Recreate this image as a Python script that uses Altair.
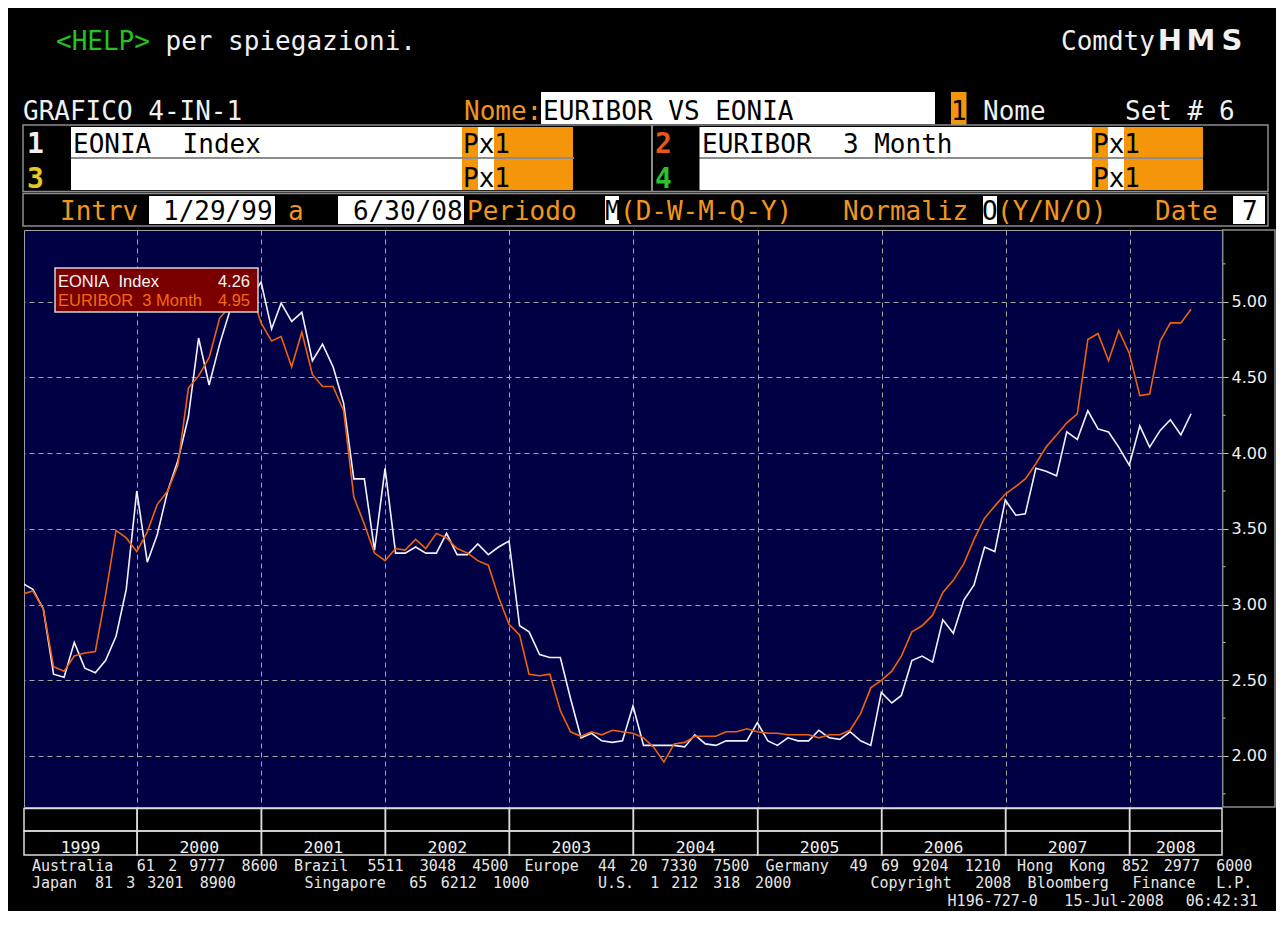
import calendar
import pandas as pd
import altair as alt

# ---------------- data ----------------
SERIES_NAMES = ["EONIA  Index", "EURIBOR  3 Month"]
YEARS = list(range(1999, 2009))

EONIA = [
    3.14, 3.10, 2.97, 2.54, 2.52, 2.75, 2.58, 2.55, 2.63, 2.79, 3.10, 3.75,  # 1999
    3.28, 3.46, 3.75, 3.95, 4.24, 4.76, 4.45, 4.72, 4.94, 4.97, 5.02, 5.13,  # 2000
    4.82, 4.99, 4.87, 4.93, 4.61, 4.72, 4.57, 4.33, 3.83, 3.83, 3.36, 3.90,  # 2001
    3.34, 3.34, 3.38, 3.34, 3.34, 3.47, 3.33, 3.33, 3.40, 3.33, 3.38, 3.42,  # 2002
    2.86, 2.82, 2.67, 2.65, 2.65, 2.38, 2.12, 2.15, 2.10, 2.09, 2.10, 2.33,  # 2003
    2.07, 2.07, 2.07, 2.07, 2.06, 2.14, 2.08, 2.07, 2.10, 2.10, 2.10, 2.22,  # 2004
    2.10, 2.07, 2.12, 2.10, 2.10, 2.17, 2.12, 2.11, 2.16, 2.10, 2.07, 2.42,  # 2005
    2.35, 2.40, 2.63, 2.66, 2.62, 2.90, 2.81, 3.03, 3.13, 3.38, 3.35, 3.69,  # 2006
    3.59, 3.60, 3.90, 3.88, 3.85, 4.14, 4.09, 4.28, 4.16, 4.14, 4.04, 3.92,  # 2007
    4.18, 4.04, 4.15, 4.22, 4.12, 4.26,                                      # 2008
]
EURIBOR = [
    3.07, 3.09, 2.97, 2.59, 2.56, 2.66, 2.68, 2.69, 3.06, 3.49, 3.44, 3.35,  # 1999
    3.48, 3.66, 3.75, 3.92, 4.43, 4.51, 4.63, 4.89, 4.97, 5.05, 5.08, 4.86,  # 2000
    4.74, 4.77, 4.57, 4.80, 4.52, 4.44, 4.44, 4.28, 3.71, 3.53, 3.34, 3.29,  # 2001
    3.37, 3.36, 3.43, 3.37, 3.47, 3.44, 3.37, 3.34, 3.29, 3.26, 3.05, 2.87,  # 2002
    2.80, 2.54, 2.53, 2.54, 2.30, 2.16, 2.13, 2.16, 2.14, 2.17, 2.16, 2.15,  # 2003
    2.12, 2.06, 1.96, 2.08, 2.09, 2.13, 2.13, 2.13, 2.16, 2.16, 2.18, 2.16,  # 2004
    2.15, 2.15, 2.14, 2.14, 2.14, 2.12, 2.14, 2.14, 2.17, 2.28, 2.45, 2.50,  # 2005
    2.56, 2.66, 2.82, 2.86, 2.93, 3.08, 3.16, 3.27, 3.43, 3.57, 3.65, 3.73,  # 2006
    3.78, 3.83, 3.93, 4.04, 4.12, 4.20, 4.26, 4.75, 4.79, 4.61, 4.81, 4.66,  # 2007
    4.38, 4.39, 4.74, 4.86, 4.86, 4.95,                                      # 2008
]
Y_TICKS = [2.0, 2.5, 3.0, 3.5, 4.0, 4.5, 5.0]
Y_MINOR = [1.75, 2.25, 2.75, 3.25, 3.75, 4.25, 4.75, 5.25]

# month-end observation dates, 1/29/99 .. 6/30/08
DATES = []
for y in YEARS:
    for m in range(1, 13):
        if y == 2008 and m > 6:
            break
        d = 29 if (y == 1999 and m == 1) else calendar.monthrange(y, m)[1]
        DATES.append(f"{y}-{m:02d}-{d:02d}T00:00:00")

df = pd.DataFrame({"date": DATES, "EONIA": EONIA, "EURIBOR": EURIBOR})

# ---------------- styling ----------------
BG = "#000000"
PLOT_BG = "#000044"
GRID = "#a4a4a4"
WHITE_LINE = "#f2f2ff"
ORANGE_LINE = "#ee620e"
AMBER = "#f0961e"
BOX_OR = "#f5960a"
GRAY = "#8c8c8c"
WHITE = "#ffffff"
TXT = "#f0f0f0"
BLACK = "#000000"
GREEN = "#22c222"
MONO = "DejaVu Sans Mono"
NB = "\u00a0"

W, H = 1198, 577
OX, OY = 24, 230   # page position of the plot origin


def px(x):
    return round(x - OX, 1)


def py(y):
    return round(y - OY, 1)


X_START = alt.DateTime(year=1999, month=2, date=2)
X_END = alt.DateTime(year=2008, month=9, date=29)
xscale = alt.Scale(domain=[X_START, X_END])
yscale = alt.Scale(domain=[1.6632, 5.4735], nice=False, zero=False)

x_axis = alt.Axis(
    values=[alt.DateTime(year=y, month=1, date=1) for y in YEARS[1:]],
    grid=True, gridColor=GRID, gridDash=[5, 4], gridWidth=1,
    labels=False, ticks=False, domain=False, title=None,
)
y_axis = alt.Axis(
    orient="right", values=Y_TICKS, format=".2f", title=None,
    grid=True, gridColor=GRID, gridDash=[5, 4], gridWidth=1,
    tickSize=6, tickColor="#c8c8c8", domainColor="#a8a8a8", domainWidth=1,
    labelFont="DejaVu Sans", labelFontSize=16, labelColor=TXT,
    labelPadding=3, labelBaseline="middle", labelOverlap=False,
)

# ---------------- main lines ----------------
eonia = alt.Chart(df).mark_line(color=WHITE_LINE, strokeWidth=1.6, clip=True).encode(
    x=alt.X("date:T", scale=xscale, axis=x_axis),
    y=alt.Y("EONIA:Q", scale=yscale, axis=y_axis),
)
euribor = alt.Chart(df).mark_line(color=ORANGE_LINE, strokeWidth=1.6, clip=True).encode(
    x=alt.X("date:T", title=None),
    y=alt.Y("EURIBOR:Q", title=None),
)
minor = alt.Chart(pd.DataFrame({"v": Y_MINOR})).mark_rule(color="#c8c8c8", strokeWidth=1).encode(
    y=alt.Y("v:Q", title=None),
    x=alt.value(W + 0.5),
    x2=alt.value(W + 3.5),
)

# ---------------- year band under the plot ----------------
bounds = ([pd.Timestamp("1999-02-02")] + [pd.Timestamp(f"{y}-01-01") for y in YEARS[1:]]
          + [pd.Timestamp("2008-09-29")])
band = pd.DataFrame({
    "start": [b.strftime("%Y-%m-%dT%H:%M:%S") for b in bounds[:-1]],
    "end": [b.strftime("%Y-%m-%dT%H:%M:%S") for b in bounds[1:]],
    "mid": [(a + (b - a) / 2).strftime("%Y-%m-%dT%H:%M:%S") for a, b in zip(bounds[:-1], bounds[1:])],
    "year": [str(y) for y in YEARS],
})
cells_top = alt.Chart(band).mark_rect(fillOpacity=0, stroke="#dcdcdc", strokeWidth=1.5).encode(
    x=alt.X("start:T", title=None), x2="end:T", y=alt.value(py(808.5)), y2=alt.value(py(831)),
)
cells_bot = alt.Chart(band).mark_rect(fillOpacity=0, stroke="#dcdcdc", strokeWidth=1.5).encode(
    x=alt.X("start:T", title=None), x2="end:T", y=alt.value(py(831)), y2=alt.value(py(855)),
)
year_labels = alt.Chart(band).mark_text(
    align="center", baseline="alphabetic", font=MONO, fontSize=16.5, color=TXT
).encode(x=alt.X("mid:T", title=None), y=alt.value(py(853)), text="year:N")

# ---------------- terminal decoration (page coordinates) ----------------
ONE = alt.Data(values=[{"k": 1}])
DECOR = []


def box(x1, y1, x2, y2, fill, stroke=None, sw=0):
    kw = {"fill": fill}
    if stroke is not None:
        kw.update(stroke=stroke, strokeWidth=sw)
    DECOR.append(alt.Chart(ONE).mark_rect(**kw).encode(
        x=alt.value(px(x1)), x2=alt.value(px(x2)), y=alt.value(py(y1)), y2=alt.value(py(y2))))


def txt(x, y, s, color, size=26, font=MONO, weight="normal", align="left"):
    d = alt.Data(values=[{"t": s.replace(" ", NB)}])
    return alt.Chart(d).mark_text(
        align=align, baseline="alphabetic", font=font, fontSize=size, fontWeight=weight, color=color
    ).encode(x=alt.value(px(x)), y=alt.value(py(y)), text="t:N")


box(541, 92, 935, 124, WHITE)
box(951, 92, 966.5, 125, BOX_OR)
box(23, 125, 1268, 191.5, BG, GRAY, 1.5)
for (ya, yb) in [(127, 157), (159, 190)]:
    for (a, b) in [(71, 462), (699.5, 1092)]:
        box(a, ya, b, yb, WHITE)
        box(b, ya, b + 16, yb, BOX_OR)
        box(b + 16, ya, b + 32, yb, WHITE)
        box(b + 32, ya, b + 111, yb, BOX_OR)
box(71, 157, 574, 159, GRAY)
box(699.5, 157, 1203, 159, GRAY)
box(651, 125, 653, 191.5, GRAY)
box(23, 193.5, 1268, 226, BG, GRAY, 1.5)
for (a, b) in [(149, 275), (338, 464), (605, 619), (983, 997), (1233, 1265)]:
    box(a, 196, b, 224, WHITE)
RECTS = list(DECOR)

HEADER = [
    (56, 50, "<HELP>", GREEN),
    (165.5, 50, "per spiegazioni.", TXT),
    (1061, 50, "Comdty", TXT),
    (23, 120, "GRAFICO 4-IN-1", TXT),
    (464, 120, "Nome:", AMBER),
    (543, 120, "EURIBOR VS EONIA", BLACK),
    (951, 120, "1", BLACK),
    (983, 120, "Nome", TXT),
    (1125, 120, "Set # 6", TXT),
    (73, 153, "EONIA  Index", BLACK),
    (463, 153, "Px1", BLACK),
    (702, 153, "EURIBOR  3 Month", BLACK),
    (1093, 153, "Px1", BLACK),
    (463, 187, "Px1", BLACK),
    (1093, 187, "Px1", BLACK),
    (60, 220, "Intrv", AMBER),
    (163, 220, "1/29/99", BLACK),
    (288, 220, "a", AMBER),
    (353, 220, "6/30/08", BLACK),
    (467, 220, "Periodo", AMBER),
    (605, 220, "M", BLACK),
    (620, 220, "(D-W-M-Q-Y)", AMBER),
    (843, 220, "Normaliz", AMBER),
    (982, 220, "O", BLACK),
    (997, 220, "(Y/N/O)", AMBER),
    (1155, 220, "Date", AMBER),
    (1242, 220, "7", BLACK),
]
ROW_NUMS = [(27, 153, "1", TXT), (655, 153, "2", "#e8561a"), (27, 188, "3", "#e8c820"), (655, 188, "4", "#2ebe2e")]
HMS = [(1170, 50, "H"), (1201, 50, "M"), (1232, 50, "S")]

FOOTER = [
    (871, "Australia 61 2 9777 8600 Brazil 5511 3048 4500 Europe 44 20 7330 7500 Germany 49 69 9204 1210 Hong Kong 852 2977 6000"),
    (888, "Japan 81 3 3201 8900      Singapore 65 6212 1000      U.S. 1 212 318 2000       Copyright 2008 Bloomberg Finance L.P."),
]
FOOTER_RIGHT = (1258, 906, "H196-727-0 15-Jul-2008 06:42:31")
FOOT_X0, FOOT_CW, FOOT_FS = 32, 10.48, 15

TEXTS = []
for (x, y, s, c) in HEADER:
    TEXTS.append(txt(x, y, s, c))
for (x, y, s, c) in ROW_NUMS:
    TEXTS.append(txt(x, y, s, c, size=28, weight="bold"))
for (x, y, s) in HMS:
    TEXTS.append(txt(x, y, s, TXT, size=29, font="DejaVu Sans", weight="bold", align="center"))
for (y, line) in FOOTER:
    i = 0
    for w in line.split(" "):
        if w:
            TEXTS.append(txt(FOOT_X0 + i * FOOT_CW, y, w, "#e6e6e6", size=FOOT_FS))
        i += len(w) + 1
fx, fy, fs = FOOTER_RIGHT
i = len(fs)
for w in reversed(fs.split(" ")):
    TEXTS.append(txt(fx - (len(fs) - i) * FOOT_CW, fy, w, "#e6e6e6", size=FOOT_FS, align="right"))
    i -= len(w) + 1

# axis panel frame at the right of the plot
AXIS_FRAME = alt.Chart(ONE).mark_rect(fillOpacity=0, stroke=GRAY, strokeWidth=1.5).encode(
    x=alt.value(px(1222.7)), x2=alt.value(px(1275)), y=alt.value(0), y2=alt.value(H))

# ---------------- legend box (over the lines) ----------------
LEGEND = [alt.Chart(ONE).mark_rect(fill="#7a0000", stroke="#d4d4d4", strokeWidth=1.5).encode(
    x=alt.value(px(55)), x2=alt.value(px(258)), y=alt.value(py(268)), y2=alt.value(py(312)))]
for name, vals, col, yb in [(SERIES_NAMES[0], EONIA, "#f4f4f4", 286.7),
                            (SERIES_NAMES[1], EURIBOR, "#f26a12", 305.5)]:
    LEGEND.append(txt(58, yb, name, col, size=16.5, font="Liberation Sans"))
    LEGEND.append(txt(250, yb, f"{vals[-1]:.2f}", col, size=16.5, font="Liberation Sans", align="right"))

chart = alt.layer(
    eonia, euribor, minor,
    cells_top, cells_bot, year_labels,
    AXIS_FRAME, *RECTS, *TEXTS, *LEGEND,
).properties(
    width=W, height=H,
    padding={"left": 16, "top": 222, "right": 54, "bottom": 104},
    autosize=alt.AutoSizeParams(type="none"),
    background=BG,
).configure_view(fill=PLOT_BG, stroke="#a0a0a0", strokeWidth=1)

chart.save("out.html", embed_options={"renderer": "svg", "actions": False})
